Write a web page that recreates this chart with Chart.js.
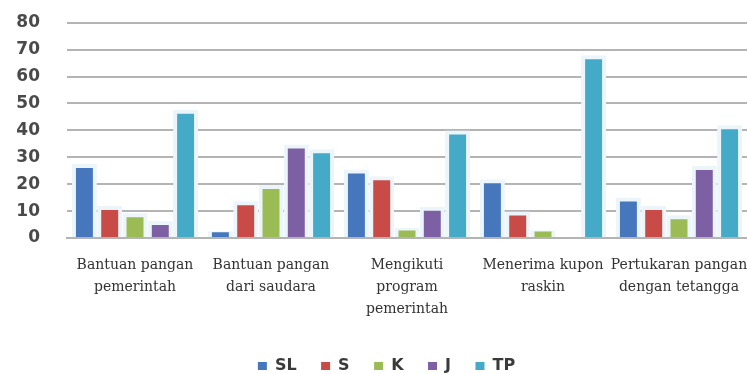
<!DOCTYPE html>
<html>
<head>
<meta charset="utf-8">
<script src="https://cdn.jsdelivr.net/npm/chart.js@4.4.1/dist/chart.umd.min.js"></script>
<style>
  html, body { margin: 0; padding: 0; background: #ffffff; }
  #wrap { width: 747px; height: 374px; }
</style>
</head>
<body>
<div id="wrap"><canvas id="c" width="747" height="374"></canvas></div>
<script>
// Category labels (multi-line)
const categories = [
  ["Bantuan pangan", "pemerintah"],
  ["Bantuan pangan", "dari saudara"],
  ["Mengikuti", "program", "pemerintah"],
  ["Menerima kupon", "raskin"],
  ["Pertukaran pangan", "dengan tetangga"]
];

// Series values (%)
const seriesNames = ["SL", "S", "K", "J", "TP"];
const valuesSL = [26, 1, 24, 20.3, 13.6];
const valuesS  = [10.4, 12.2, 21.5, 8.4, 10.4];
const valuesK  = [7.7, 18.2, 2.3, 1.4, 7];
const valuesJ  = [4.8, 33.3, 10.1, 0, 25.3];
const valuesTP = [46.2, 31.5, 38.5, 66.4, 40.4];

// Y axis ticks
const yMin = 0;
const yMax = 80;
const yStep = 10;

const colors = ["#4677bd", "#c84b47", "#9bbb55", "#7d5fa3", "#45aac8"];
const haloColor = "rgba(236, 245, 250, 1)";

const seriesValues = [valuesSL, valuesS, valuesK, valuesJ, valuesTP];

const datasets = seriesNames.map((name, i) => ({
  label: name,
  data: seriesValues[i],
  backgroundColor: colors[i],
  borderColor: haloColor,
  borderWidth: 4,
  inflateAmount: 4,
  borderSkipped: 'start',
  clip: 0,
  categoryPercentage: 0.93,
  barPercentage: 0.67
}));

// Nudge the legend row a little to the right of the canvas centre
const legendOffset = {
  id: 'legendOffset',
  afterLayout(chart) {
    const lg = chart.legend;
    if (lg) { lg.left += 13; lg.right += 13; }
  }
};

new Chart(document.getElementById('c'), {
  type: 'bar',
  data: { labels: categories, datasets: datasets },
  plugins: [legendOffset],
  options: {
    responsive: false,
    animation: false,
    layout: { padding: { left: 0, right: 0, top: 22.7, bottom: -10 } },
    plugins: {
      legend: {
        position: 'bottom',
        labels: {
          boxWidth: 9,
          boxHeight: 8,
          padding: 24.5,
          color: '#3a3a3a',
          font: { family: 'DejaVu Sans', size: 16, weight: 'bold' },
          // plain filled swatches, without the bar halo
          generateLabels: (chart) =>
            Chart.defaults.plugins.legend.labels.generateLabels(chart).map((item) => ({
              ...item,
              lineWidth: 0,
              strokeStyle: 'rgba(0,0,0,0)'
            }))
        }
      },
      tooltip: { enabled: false }
    },
    scales: {
      x: {
        grid: { display: false, drawTicks: false },
        border: { display: true, color: '#b4b4b4', width: 2 },
        ticks: {
          padding: 17,
          color: '#333333',
          maxRotation: 0,
          autoSkip: false,
          font: { family: 'DejaVu Serif', size: 14, lineHeight: 1.55 }
        },
        afterFit: (scale) => {
          scale.height = 95.5;
          // let the last label run to the canvas edge instead of shrinking the plot
          scale.paddingLeft = 0;
          scale.paddingRight = 0;
        }
      },
      y: {
        min: yMin,
        max: yMax,
        ticks: {
          stepSize: yStep,
          padding: 27,
          color: '#4a4a4a',
          font: { family: 'DejaVu Sans', size: 17, weight: 'bold' }
        },
        grid: { color: '#b4b4b4', lineWidth: 2, drawTicks: false },
        border: { display: false },
        afterFit: (scale) => {
          scale.width = 67;
          scale.paddingTop = 0;
          scale.paddingBottom = 0;
        }
      }
    }
  }
});
</script>
</body>
</html>
